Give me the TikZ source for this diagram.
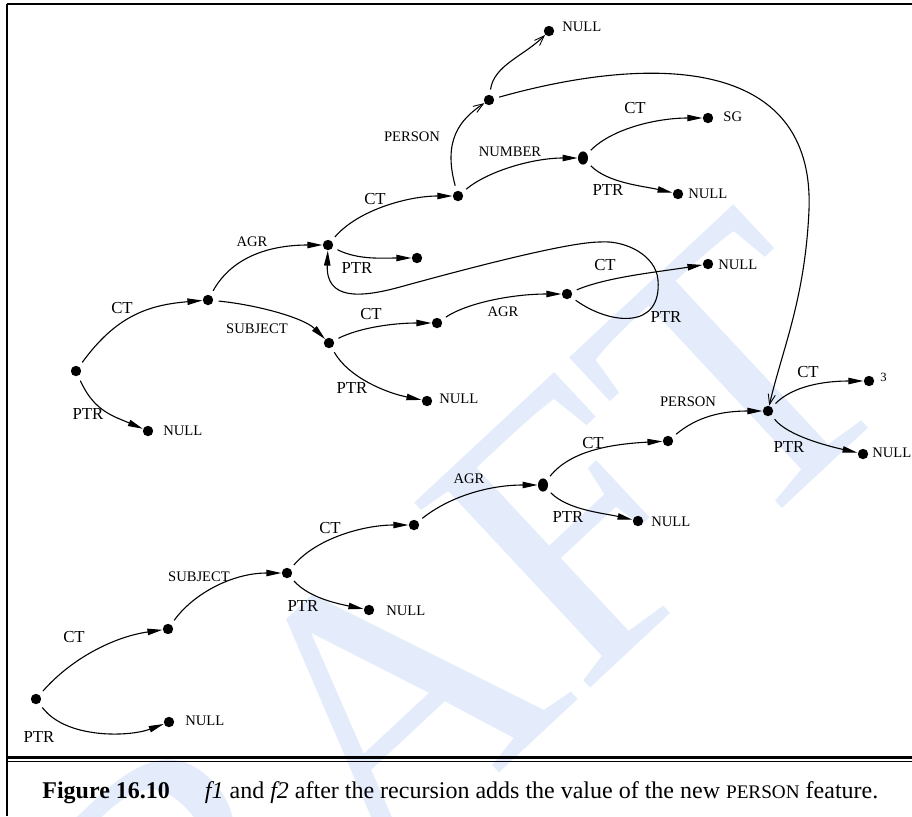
\documentclass[tikz,border=0pt]{standalone}
\usepackage{fontspec}
\setmainfont{Liberation Serif}
\usetikzlibrary{arrows.meta,shapes.geometric}
\definecolor{wmblue}{RGB}{228,236,252}

\begin{document}
\begin{tikzpicture}[x=0.5pt,y=-0.5pt,
  dot/.style={circle,fill=black,inner sep=0pt,minimum size=5.2pt},
  tdot/.style={ellipse,fill=black,inner sep=0pt,minimum width=5pt,minimum height=6.6pt},
  edge/.style={line width=0.55pt,-{Triangle[length=7.5pt,width=3.2pt]},shorten <=2.5pt},
  newedge/.style={line width=0.55pt,-{Straight Barb[length=5pt,width=3.6pt,line width=0.45pt]},shorten <=2.5pt},
  big/.style={font=\fontsize{8.4}{9}\selectfont,inner sep=0pt},
  small/.style={font=\fontsize{7.3}{8}\selectfont,inner sep=0pt},
  tiny/.style={font=\fontsize{6.3}{7}\selectfont,inner sep=0pt},
  wm/.style={font=\fontsize{195}{195}\selectfont,text=wmblue,inner sep=0pt}]

\useasboundingbox (0,0) rectangle (912,816);

% watermark
\begin{scope}
  \clip (0,0) rectangle (912,816);
  \node[wm,anchor=base west,rotate=43] (wmark) at (-22,1259) {DRAFT};
\end{scope}

% frame and caption rules
\draw[line width=1.3pt] (6.5,4) -- (912,4);
\draw[line width=0.8pt] (7,3.5) -- (7,816);
\draw[line width=1.1pt] (7,757.5) -- (912,757.5);
\draw[line width=0.6pt] (7,761.5) -- (912,761.5);

% caption
\node[anchor=base west,inner sep=0pt,font=\fontsize{12}{14}\selectfont] (cap) at (42,798)
  {\textbf{Figure 16.10}\hspace{17.5pt}\textit{f1} and \textit{f2} after the recursion adds the value of the new {\fontsize{9.6}{10}\selectfont PERSON} feature.};

% ---------- f1 ----------
\node[dot] (r1) at (76,371) {};
\node[dot] (a1) at (208,300) {};
\node[dot] (b1) at (328,245) {};
\node[dot] (c1) at (458,196) {};
\node[dot] (per1) at (489,100) {};
\node[dot] (tn) at (549,31) {};
\node[tdot] (num1) at (583,158) {};
\node[dot] (sg) at (708,118) {};
\node[dot] (nn) at (678,194) {};
\node[dot] (p1) at (417,258) {};
\node[dot] (s1) at (329,343) {};
\node[dot] (d1) at (437,323) {};
\node[dot] (e1) at (567,294) {};
\node[dot] (n1) at (148,431) {};
\node[dot] (n2) at (427,401) {};
\node[dot] (n3) at (708,264) {};

\coordinate (bendR) at (809,210);
\coordinate (loopA) at (658,280);
\coordinate (loopB) at (600,242);
\coordinate (loopC) at (400,287);

\draw[edge] (r1) .. controls +(40,-55) and +(-60,5) .. (a1);
\draw[edge] (r1) .. controls +(18,40) and +(-35,-15) .. (n1);
\draw[edge] (a1) .. controls +(25,-45) and +(-55,0) .. (b1);
\draw[edge] (a1) .. controls +(50,5) and +(-25,-25) .. (s1);
\draw[edge] (b1) .. controls +(30,-35) and +(-50,0) .. (c1);
\draw[edge] (b1) .. controls +(30,15) and +(-35,0) .. (p1);
\draw[newedge] (c1) .. controls +(-15,-55) and +(-30,20) .. (per1);
\draw[edge] (c1) .. controls +(30,-25) and +(-50,0) .. (num1);
\draw[edge] (num1) .. controls +(30,-30) and +(-50,0) .. (sg);
\draw[edge] (num1) .. controls +(25,25) and +(-35,-8) .. (nn);
\draw[newedge] (per1) .. controls +(5,-35) and +(-25,25) .. (tn);
\draw[edge] (s1) .. controls +(30,-15) and +(-45,0) .. (d1);
\draw[edge] (s1) .. controls +(20,35) and +(-40,-8) .. (n2);
\draw[edge] (d1) .. controls +(30,-20) and +(-55,0) .. (e1);
\draw[edge] (e1) .. controls +(40,-17) and +(-50,8) .. (n3);
\draw[edge] (e1) .. controls (610,325) and (662,330) .. (loopA)
  .. controls (656,255) and (625,240) .. (loopB)
  .. controls (570,242) and (480,265) .. (loopC)
  .. controls (360,298) and (326,300) .. (b1);

\node[big] (lCTa) at (122,308) {CT};
\node[big] (lPTRa) at (88,414) {PTR};
\node[small,anchor=west] (lNa) at (163,431) {NULL};
\node[small] (lAGRa) at (252,242) {AGR};
\node[small] (lSUBa) at (257,329) {SUBJECT};
\node[big] (lCTb) at (375,199) {CT};
\node[big] (lPTRb) at (357,268) {PTR};
\node[small] (lPERa) at (412,137) {PERSON};
\node[small] (lNUM) at (510,152) {NUMBER};
\node[small,anchor=west] (lNtop) at (562,27) {NULL};
\node[big] (lCTc) at (635,108) {CT};
\node[small,anchor=west] (lSG) at (723,117) {SG};
\node[big] (lPTRc) at (608,190) {PTR};
\node[small,anchor=west] (lNc) at (688,194) {NULL};
\node[big] (lCTd) at (371,314) {CT};
\node[big] (lPTRd) at (352,388) {PTR};
\node[small,anchor=west] (lNd) at (439,399) {NULL};
\node[small] (lAGRb) at (503,312) {AGR};
\node[big] (lCTe) at (605,265) {CT};
\node[small,anchor=west] (lNe) at (718,265) {NULL};
\node[big] (lPTRe) at (666,317) {PTR};

% ---------- f2 ----------
\node[dot] (r2) at (36,699) {};
\node[dot] (q1) at (168,629) {};
\node[dot] (s2) at (287,573) {};
\node[dot] (u1) at (414,525) {};
\node[tdot] (v1) at (543,485) {};
\node[dot] (w1) at (668,441) {};
\node[dot] (t2) at (768,411) {};
\node[dot] (th) at (869,381) {};
\node[dot] (n4) at (169,722) {};
\node[dot] (n5) at (369,610) {};
\node[dot] (n6) at (638,521) {};
\node[dot] (n7) at (863,454) {};

\draw[edge] (r2) .. controls +(35,-40) and +(-55,8) .. (q1);
\draw[edge] (r2) .. controls +(30,40) and +(-40,15) .. (n4);
\draw[edge] (q1) .. controls +(25,-35) and +(-55,0) .. (s2);
\draw[edge] (s2) .. controls +(30,-35) and +(-50,0) .. (u1);
\draw[edge] (s2) .. controls +(22,25) and +(-30,-6) .. (n5);
\draw[edge] (u1) .. controls +(35,-28) and +(-55,0) .. (v1);
\draw[edge] (v1) .. controls +(28,-35) and +(-55,3) .. (w1);
\draw[edge] (v1) .. controls +(25,25) and +(-35,-8) .. (n6);
\draw[edge] (w1) .. controls +(30,-25) and +(-45,0) .. (t2);
\draw[edge] (t2) .. controls +(25,-25) and +(-45,0) .. (th);
\draw[edge] (t2) .. controls +(20,25) and +(-35,-8) .. (n7);

% shared PERSON value: f1's new person node points into f2
\draw[newedge] (per1) .. controls +(160,-45) and (815,55) .. (bendR)
  .. controls (805,300) and (782,350) .. (t2);

\node[big] (lCTf) at (74,637) {CT};
\node[big] (lPTRf) at (39,737) {PTR};
\node[small,anchor=west] (lNf) at (185,721) {NULL};
\node[small] (lSUBb) at (199,577) {SUBJECT};
\node[big] (lCTg) at (330,528) {CT};
\node[big] (lPTRg) at (303,606) {PTR};
\node[small,anchor=west] (lNg) at (386,611) {NULL};
\node[small] (lAGRc) at (469,479) {AGR};
\node[big] (lCTh) at (593,443) {CT};
\node[big] (lPTRh) at (568,517) {PTR};
\node[small,anchor=west] (lNh) at (651,522) {NULL};
\node[small] (lPERb) at (688,402) {PERSON};
\node[big] (lCTi) at (808,372) {CT};
\node[tiny,anchor=west] (l3) at (880,377) {3};
\node[big] (lPTRi) at (789,447) {PTR};
\node[small,anchor=west] (lNi) at (872,453) {NULL};
\end{tikzpicture}
\end{document}
